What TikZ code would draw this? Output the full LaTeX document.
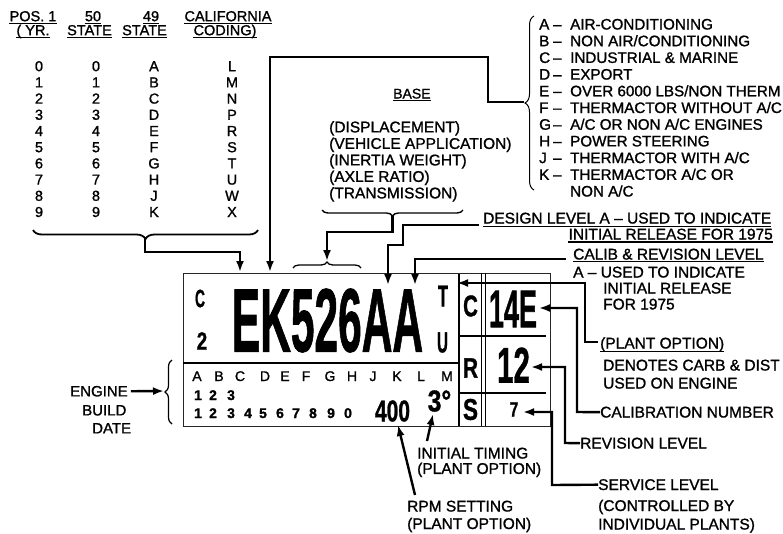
\documentclass[tikz,border=0pt]{standalone}
\usepackage{fontspec}
\setmainfont{Liberation Sans}[FakeBold=1.2]
\usepackage{graphicx}
\usetikzlibrary{arrows.meta,decorations.pathreplacing}
\newcommand{\fsz}[1]{\fontsize{#1}{#1}\selectfont}
\newcommand{\cnd}[3]{\fontsize{#1}{#1}\selectfont\bfseries\scalebox{#2}[1]{#3}}
\newcommand{\litem}[4]{%
  \node[lst] (l#1) at (539,#2) {#3};
  \node[lst] (d#1) at (553,#2) {--};
  \node[lst] (t#1) at (570,#2) {#4};}
\tikzset{
  txt/.style={inner sep=0pt, anchor=base west, font=\fsz{15.5}},
  hdr/.style={inner sep=0pt, anchor=base, font=\fsz{14.5}},
  lst/.style={inner sep=0pt, anchor=base west, font=\fsz{15.2}},
  bxl/.style={inner sep=0pt, anchor=base, font=\fsz{14}},
  bxd/.style={inner sep=0pt, anchor=base, font=\fsz{14}\bfseries},
  bigc/.style={inner sep=0pt, anchor=center},
  conn/.style={line width=2.4pt, -{Latex[length=11pt,width=8pt]}},
  ul/.style={line width=1.1pt},
  brc/.style={decorate, decoration={brace, amplitude=#1}},
  thinl/.style={line width=0.8pt, draw=black!85},
}
\begin{document}
\begin{tikzpicture}[x=1pt,y=-1pt]
\useasboundingbox (0,0) rectangle (783,533);
% ---------- header of year / state columns
\node[hdr] (hpos) at (33,21.2) {POS. 1};
\node[hdr] (h50) at (93,21.2) {50};
\node[hdr] (h49) at (151,21.2) {49};
\node[hdr] (hcal) at (228,21.2) {CALIFORNIA};
\node[hdr] (hyr) at (33,35.2) {( YR.};
\node[hdr] (hst1) at (89.5,35.2) {STATE};
\node[hdr] (hst2) at (144.5,35.2) {STATE};
\node[hdr] (hcod) at (225,35.2) {CODING)};
\foreach \n in {hpos,h50,h49,hcal}
  \draw[ul] ([yshift=-2pt]\n.base west) -- ([yshift=-2pt]\n.base east);
\foreach \n in {hyr,hst1,hst2,hcod}
  \draw[ul] ([yshift=-2.4pt]\n.base west) -- ([yshift=-2.4pt]\n.base east);
\foreach \a/\b [count=\i from 0] in {0/A,1/B,2/C,3/D,4/E,5/F,6/G,7/H,8/J,9/K} {
  \node[hdr] (ca\i) at (39,{71.2+16.2*\i}) {\a};
  \node[hdr] (cb\i) at (96,{71.2+16.2*\i}) {\a};
  \node[hdr] (cc\i) at (154,{71.2+16.2*\i}) {\b};
}
\foreach \c [count=\i from 0] in {L,M,N,P,R,S,T,U,W,X}
  \node[hdr] (cd\i) at (232,{71.2+16.2*\i}) {\c};
\draw[brc=9pt, line width=1.8pt] (258,230) -- (33,230);
\coordinate (ytip) at (145,239);
% ---------- right list
\draw[brc=9pt, line width=1pt] (534,190) -- (534,16);
\coordinate (rtip) at (524,102);
\litem{a}{29.5}{A}{AIR-CONDITIONING}
\litem{b}{46.2}{B}{NON AIR/CONDITIONING}
\litem{c}{62.9}{C}{INDUSTRIAL \& MARINE}
\litem{d}{79.6}{D}{EXPORT}
\litem{e}{96.3}{E}{OVER 6000 LBS/NON THERM}
\litem{f}{113}{F}{THERMACTOR WITHOUT A/C}
\litem{g}{129.7}{G}{A/C OR NON A/C ENGINES}
\litem{h}{146.4}{H}{POWER STEERING}
\litem{j}{163.1}{J}{THERMACTOR WITH A/C}
\litem{k}{179.8}{K}{THERMACTOR A/C OR}
\node[lst] (tk2) at (570,196.5) {NON A/C};
% ---------- base block
\node[inner sep=0pt, anchor=base west, font=\fsz{14}] (base) at (393,98.5) {BASE};
\draw[ul] ([yshift=-2pt]base.base west) -- ([yshift=-2pt]base.base east);
\node[txt] (b1) at (329,132.4) {(DISPLACEMENT)};
\node[txt] (b2) at (329,148.9) {(VEHICLE APPLICATION)};
\node[txt] (b3) at (329,165.4) {(INERTIA WEIGHT)};
\node[txt] (b4) at (329,181.9) {(AXLE RATIO)};
\node[txt] (b5) at (329,198.4) {(TRANSMISSION)};
\draw[brc=6pt, line width=1.4pt] (463,210) -- (322,210);
\coordinate (btip) at (392.5,216);
% ---------- design / calib texts
\node[txt] (des1) at (483,223.5) {DESIGN LEVEL A -- USED TO INDICATE};
\node[txt, anchor=base east] (des2) at (773,239.5) {INITIAL RELEASE FOR 1975};
\draw[ul] ([yshift=-3pt]des1.base west) -- ([yshift=-3pt]des1.base east);
\draw[ul] ([yshift=-2.5pt]des2.base west) -- ([yshift=-2.5pt]des2.base east);
\node[txt] (cal1) at (573,259.5) {CALIB \& REVISION LEVEL};
\draw[ul] ([yshift=-2.2pt]cal1.base west) -- ([yshift=-2.2pt]cal1.base east);
\node[txt] (cal2) at (573,277.5) {A -- USED TO INDICATE};
\node[txt] (cal3) at (603,293.5) {INITIAL RELEASE};
\node[txt] (cal4) at (603,309.5) {FOR 1975};
% ---------- right-hand labels
\node[txt] (pl1) at (600,348.5) {(PLANT OPTION)};
\draw[ul] ([yshift=-3pt]pl1.base west) -- ([yshift=-3pt]pl1.base east);
\node[txt] (pl2) at (603,370.5) {DENOTES CARB \& DIST};
\node[txt] (pl3) at (603,388.5) {USED ON ENGINE};
\node[txt] (calnum) at (600,417.5) {CALIBRATION NUMBER};
\node[txt] (revl) at (580,448.5) {REVISION LEVEL};
\node[txt] (svc1) at (598,490) {SERVICE LEVEL};
\node[txt] (svc2) at (598,511) {(CONTROLLED BY};
\node[txt] (svc3) at (598,529.5) {INDIVIDUAL PLANTS)};
% ---------- bottom labels
\node[txt] (it1) at (417,458.5) {INITIAL TIMING};
\node[txt] (it2) at (417,473.9) {(PLANT OPTION)};
\node[txt] (rpm1) at (407,511.5) {RPM SETTING};
\node[txt] (rpm2) at (407,529) {(PLANT OPTION)};
% ---------- engine build date
\node[inner sep=0pt, anchor=base west, font=\fsz{15}] (eng1) at (70,396.4) {ENGINE};
\node[inner sep=0pt, anchor=base west, font=\fsz{15}] (eng2) at (82,415.4) {BUILD};
\node[inner sep=0pt, anchor=base west, font=\fsz{15}] (eng3) at (92,433.4) {DATE};
\draw[brc=7pt, line width=1.2pt] (172,424) -- (172,360);
% ---------- the plate
\node[thinl, draw, inner sep=0pt, minimum width=367pt, minimum height=153pt, anchor=north west] (plate) at (183,273) {};
\draw[line width=2.6pt] (183,363) -- (459,363);
\draw[line width=2.6pt] (459,274) -- (459,426);
\draw[line width=0.9pt] (481,273) -- (481,426);
\draw[line width=0.9pt] (485,273) -- (485,426);
\draw[line width=1.3pt] (459,336) -- (546,336);
\draw[line width=1.3pt] (459,393) -- (546,393);
\draw[brc=6pt, line width=1.3pt] (293,268) -- (361,268);
\coordinate (stip) at (327,261);
\node[bigc] (pc) at (200,298.5) {\cnd{25}{0.55}{C}};
\node[bigc] (p2) at (202,341) {\cnd{25}{0.75}{2}};
\node[bigc] (pek) at (327.5,320.5) {\cnd{90}{0.472}{EK526AA}};
\node[bigc] (pt) at (443,296) {\cnd{30}{0.55}{T}};
\node[bigc] (pu) at (442.5,342.5) {\cnd{29}{0.52}{U}};
\foreach \l/\x in {A/197,B/219,C/240,D/265,E/285,F/306,G/330,H/352,J/373,K/397,L/421,M/447}
  \node[bxl] (bl\l) at (\x,381) {\l};
\foreach \d/\x in {1/198,2/213,3/231}
  \node[bxd] (bm\d) at (\x,400) {\d};
\foreach \d/\x [count=\i] in {1/198,2/213,3/231,4/248,5/263,6/280,7/296,8/313,9/331,0/348}
  \node[bxd] (bd\i) at (\x,418) {\d};
\node[bigc] (p400) at (392.5,411) {\cnd{30}{0.7}{400}};
\node[bigc] (p3d) at (439.5,401) {\cnd{30}{0.82}{3°}};
\node[bigc] (rc) at (470.5,306) {\cnd{30}{0.68}{C}};
\node[bigc] (r14) at (513,309) {\cnd{53}{0.51}{14E}};
\node[bigc] (rr) at (470.5,368) {\cnd{28}{0.75}{R}};
\node[bigc] (r12) at (513.5,365) {\cnd{50}{0.59}{12}};
\node[bigc] (rs) at (470.5,409.5) {\cnd{30}{0.75}{S}};
\node[bigc] (r7) at (514,409.5) {\cnd{21}{0.72}{7}};
% ---------- connectors
\coordinate (eTop) at (240,272);
\coordinate (kTop) at (270,272);
\coordinate (a1Top) at (388,285);
\coordinate (a2Top) at (415,285);
\coordinate (tArr) at (457,283);
\coordinate (e14) at (539,308);
\coordinate (e12) at (531,367);
\coordinate (e7) at (523,412);
\coordinate (e3) at (433,414);
\coordinate (e400) at (398,425);
\coordinate (ebr) at (164,391);
\draw[conn] (ytip) -- (145,252) -| (eTop);
\draw[conn] (rtip) -- (488,102) -- (488,57) -| (kTop);
\draw[conn] (btip) -- (392.5,232) -| (stip);
\draw[conn] ([xshift=-4pt]des1.base west |- 0,225) -- (403,225) -- (403,245) -| (a1Top);
\draw[conn] ([xshift=-7pt]cal1.base west |- 0,259) -| (a2Top);
\draw[conn] (598,342) -- (585,342) |- (tArr);
\draw[conn] (calnum.west) -- (577,412) |- (e14);
\draw[conn] (revl.west) -- (565,443) |- (e12);
\draw[conn] (svc1.west) -- (552,485) |- (e7);
\draw[conn] (427,441) -- (e3);
\draw[conn] (415,495) -- (e400);
\draw[conn] ([xshift=3pt]eng1.east) -- (ebr);
\end{tikzpicture}
\end{document}
